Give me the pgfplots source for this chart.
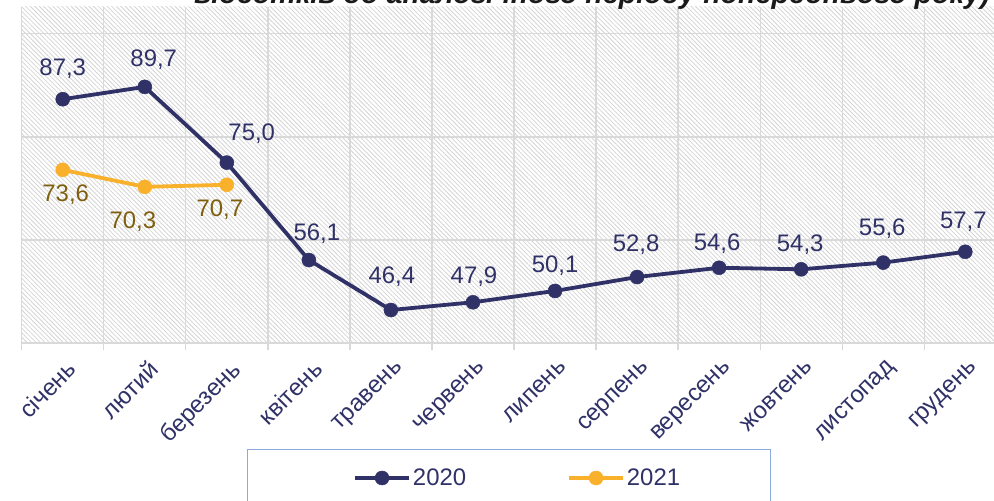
\documentclass[border=0pt]{standalone}
\usepackage{fontspec}
\setmainfont{Liberation Sans}
\usepackage{pgfplots}
\usepackage{pgfplotstable}
\pgfplotsset{compat=1.18}
\usetikzlibrary{patterns.meta}

\definecolor{navy}{HTML}{2F3167}
\definecolor{gold}{HTML}{F9B12C}
\definecolor{goldtext}{HTML}{7F5F0E}
\definecolor{gridgray}{HTML}{D9D9D9}
\definecolor{hatchgray}{HTML}{D4D4D4}
\definecolor{legendblue}{HTML}{8EA9DB}
\definecolor{titlecol}{HTML}{1A1A1A}

\pgfplotstableread{
x y lab dx dy
0 87.3 87,3 0 31
1 89.7 89,7 9 27
2 75.0 75,0 25 29
3 56.1 56,1 8 26
4 46.4 46,4 1 33
5 47.9 47,9 1 26
6 50.1 50,1 0 25
7 52.8 52,8 -1 32
8 54.6 54,6 -2 24
9 54.3 54,3 -1 25
10 55.6 55,6 -1 34
11 57.7 57,7 -2 30
}\dataA

\pgfplotstableread{
x y lab dx dy
0 73.6 73,6 3 -25
1 70.3 70,3 -12 -35
2 70.7 70,7 -7 -25
}\dataB

\begin{document}
\begin{tikzpicture}
\begin{axis}[
  at={(21.7bp,158bp)}, anchor=south west,
  scale only axis, width=972.3bp, height=336bp,
  xmin=-0.5, xmax=11.35, ymin=40, ymax=105.2,
  clip=false,
  axis background/.style={pattern={Lines[angle=-45, distance=3.2bp, line width=0.8bp]}, pattern color=hatchgray},
  axis line style={draw=none},
  xtick={0,...,11},
  xticklabels={січень,лютий,березень,квітень,травень,червень,липень,серпень,вересень,жовтень,листопад,грудень},
  minor xtick={-0.5,0.5,...,11.5},
  xminorgrids=true,
  ytick={40,60,80,100},
  yticklabels={,,,},
  ymajorgrids=true,
  grid style={draw=gridgray, line width=1.3bp},
  minor grid style={draw=gridgray, line width=1.3bp},
  tick pos=left,
  tick align=outside,
  major tick length=0pt,
  minor tick length=7bp,
  minor tick style={draw=gridgray, line width=1.3bp},
  xticklabel style={rotate=45, anchor=north east, font=\fontsize{24}{24}\selectfont, text=navy, inner sep=1pt, xshift=-8bp, yshift=-12bp},
  legend style={at={(rel axis cs:0.3407,-0.4018)}, anchor=west, draw=none, fill=none,
    font=\fontsize{24}{24}\selectfont, text=navy, inner xsep=0pt,
    /tikz/every even column/.append style={column sep=99bp}},
  legend columns=2,
  legend image code/.code={\draw[mark repeat=2,mark phase=2,#1] plot coordinates {(0bp,0bp) (27bp,0bp) (54bp,0bp)};},
]
\addlegendimage{color=navy, line width=3.8bp, mark=*, mark size=7bp, mark options={line width=0.5bp, fill=navy}}
\addlegendentry{2020}
\addlegendimage{color=gold, line width=3.8bp, mark=*, mark size=7bp, mark options={line width=0.5bp, fill=gold}}
\addlegendentry{2021}
\addplot[forget plot, color=navy, line width=3.8bp, mark=*, mark size=7bp, mark options={line width=0.5bp, fill=navy},
  point meta=explicit symbolic,
  visualization depends on={\thisrow{dx}\as\dx},
  visualization depends on={\thisrow{dy}\as\dy},
  nodes near coords,
  nodes near coords style={anchor=center, xshift=\dx, yshift=\dy, font=\fontsize{24}{24}\selectfont, text=navy}]
  table[x=x, y=y, meta=lab] {\dataA};
\addplot[forget plot, color=gold, line width=3.8bp, mark=*, mark size=7bp, mark options={line width=0.5bp, fill=gold},
  point meta=explicit symbolic,
  visualization depends on={\thisrow{dx}\as\dx},
  visualization depends on={\thisrow{dy}\as\dy},
  nodes near coords,
  nodes near coords style={anchor=center, xshift=\dx, yshift=\dy, font=\fontsize{24}{24}\selectfont, text=goldtext}]
  table[x=x, y=y, meta=lab] {\dataB};
\end{axis}
\draw[legendblue, line width=1bp] (247bp,51bp) rectangle (770bp,-30bp);
\node[anchor=base east, inner sep=0pt, font=\fontsize{28.7}{28.7}\selectfont\bfseries\itshape, text=titlecol] at (990bp,497bp) {відсотків до аналогічного періоду попереднього року)};
\pgfresetboundingbox
\path[use as bounding box] (0,0) rectangle (994bp,501bp);
\end{tikzpicture}
\end{document}
